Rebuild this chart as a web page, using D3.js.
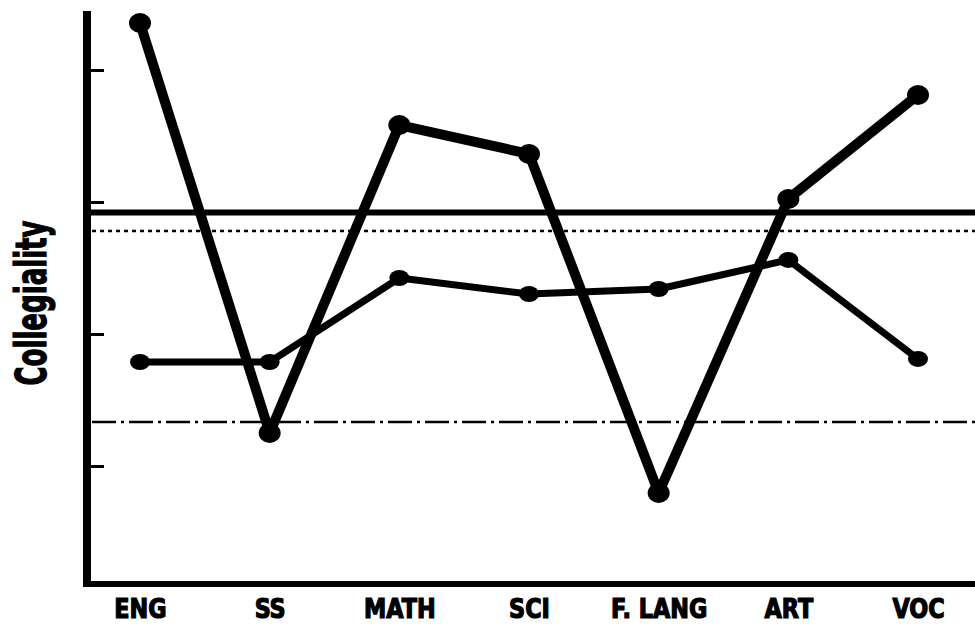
<!DOCTYPE html>
<html>
<head>
<meta charset="utf-8">
<script src="https://cdn.jsdelivr.net/npm/d3@7"></script>
<style>
  html, body { margin: 0; padding: 0; background: #fff; }
  svg { display: block; }
  text { font-family: "DejaVu Sans Condensed", "DejaVu Sans", sans-serif; font-weight: bold; font-stretch: condensed; fill: #000; }
</style>
</head>
<body>
<script>
// ---- data ----
const categories = ["ENG", "SS", "MATH", "SCI", "F. LANG", "ART", "VOC"];
const seriesA = [4.356, 1.25, 3.583, 3.364, 0.795, 3.023, 3.811];   // thick line
const seriesB = [1.788, 1.788, 2.424, 2.303, 2.341, 2.561, 1.811];  // thinner line
const refSolid = 2.92;
const refDotted = 2.78;
const refDashDot = 1.333;
const yTicks = [1, 2, 3, 4];
const yLabel = "Collegiality";

// ---- layout ----
const W = 975, H = 626;
const axisX = 87, plotTop = 11, plotBottom = 584, plotRight = 975;

const svg = d3.select("body").append("svg").attr("width", W).attr("height", H);

const x = d3.scalePoint().domain(categories).range([140, 918]);
const y = d3.scaleLinear().domain([0.106, 4.447]).range([plotBottom, plotTop]);

// reference lines
svg.append("line").attr("x1", axisX).attr("x2", plotRight)
  .attr("y1", y(refSolid)).attr("y2", y(refSolid))
  .attr("stroke", "#000").attr("stroke-width", 6);
svg.append("line").attr("x1", axisX + 5).attr("x2", plotRight)
  .attr("y1", y(refDotted)).attr("y2", y(refDotted))
  .attr("stroke", "#000").attr("stroke-width", 2.5).attr("stroke-dasharray", "4,4");
svg.append("line").attr("x1", axisX + 5).attr("x2", plotRight)
  .attr("y1", y(refDashDot)).attr("y2", y(refDashDot))
  .attr("stroke", "#000").attr("stroke-width", 2.5).attr("stroke-dasharray", "24,5,3,5");

// y axis with ticks (no labels)
const yAxis = d3.axisRight(y).tickValues(yTicks).tickSize(17).tickFormat("");
const gy = svg.append("g").attr("transform", `translate(${axisX},0)`).call(yAxis);
gy.select(".domain").remove();
gy.selectAll(".tick line").attr("stroke", "#000").attr("stroke-width", 3);
svg.append("line").attr("x1", axisX).attr("x2", axisX)
  .attr("y1", plotTop).attr("y2", plotBottom + 3)
  .attr("stroke", "#000").attr("stroke-width", 8);

// x axis
const xAxis = d3.axisBottom(x).tickSize(0).tickPadding(15);
const gx = svg.append("g").attr("transform", `translate(0,${plotBottom})`).call(xAxis);
gx.select(".domain").remove();
gx.selectAll(".tick text")
  .attr("font-size", 27)
  .attr("stroke", "#000").attr("stroke-width", 1.2)
  .attr("transform", "scale(0.92,1)")
  .style("font-family", '"DejaVu Sans Condensed", "DejaVu Sans", sans-serif')
  .style("font-weight", "bold");

svg.append("line").attr("x1", axisX - 4).attr("x2", plotRight)
  .attr("y1", plotBottom).attr("y2", plotBottom)
  .attr("stroke", "#000").attr("stroke-width", 6);

// y label
svg.append("text")
  .attr("transform", `translate(46,${303}) rotate(-90) scale(0.69,1)`)
  .attr("text-anchor", "middle")
  .attr("font-size", 42)
  .attr("stroke", "#000").attr("stroke-width", 1.2)
  .text(yLabel);

// series
const line = d3.line().x((d, i) => x(categories[i])).y(d => y(d));

svg.append("path").datum(seriesB).attr("d", line)
  .attr("fill", "none").attr("stroke", "#000").attr("stroke-width", 7).attr("stroke-linejoin", "round");
svg.selectAll(".ptB").data(seriesB).enter().append("ellipse")
  .attr("cx", (d, i) => x(categories[i])).attr("cy", d => y(d))
  .attr("rx", 10).attr("ry", 8).attr("fill", "#000");

svg.append("path").datum(seriesA).attr("d", line)
  .attr("fill", "none").attr("stroke", "#000").attr("stroke-width", 10).attr("stroke-linejoin", "round");
svg.selectAll(".ptA").data(seriesA).enter().append("ellipse")
  .attr("cx", (d, i) => x(categories[i])).attr("cy", d => y(d))
  .attr("rx", 11).attr("ry", 10).attr("fill", "#000");
</script>
</body>
</html>
